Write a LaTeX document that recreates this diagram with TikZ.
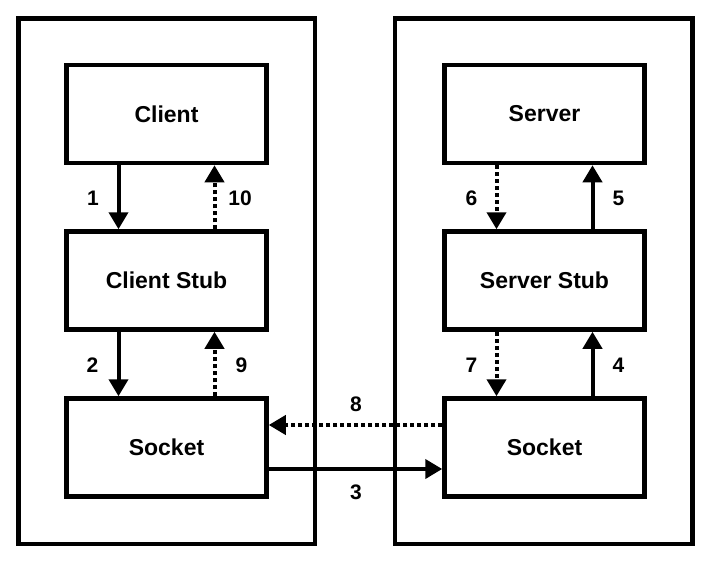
\documentclass[tikz,border=0pt]{standalone}
\usepackage{fontspec}
\setmainfont{Liberation Sans}
\usetikzlibrary{arrows.meta}
\begin{document}
\begin{tikzpicture}[x=1pt,y=-1pt,
  frame/.style={draw,line width=4.5pt,inner sep=0pt},
  comp/.style={draw,line width=4.5pt,minimum width=200pt,minimum height=98pt,
    inner sep=0pt,font=\fontsize{23}{27}\selectfont\bfseries},
  link/.style={line width=4pt,-{Triangle[width=19pt,length=17pt]}},
  async/.style={link,dash pattern=on 4pt off 3pt},
  num/.style={font=\fontsize{21}{25}\selectfont\bfseries}]
\useasboundingbox (0,0) rectangle (720,562);

% host machines
\node[frame,minimum width=296.5pt,minimum height=525.5pt] (hostA) at (166.75,281.25) {};
\node[frame,minimum width=297.5pt,minimum height=525.5pt] (hostB) at (543.75,281.25) {};

% client side
\node[comp] (client) at (166.5,114) {Client};
\node[comp] (cstub)  at (166.5,280.5) {Client Stub};
\node[comp] (csock)  at (166.5,447.5) {Socket};

% server side
\node[comp] (server) at (544.5,114) {Server};
\node[comp] (sstub)  at (544.5,280.5) {Server Stub};
\node[comp] (ssock)  at (544.5,447.5) {Socket};

% client calls
\draw[link]  ([xshift=-48pt]client.south) -- ([xshift=-48pt]cstub.north);
\draw[async] ([xshift=48pt]cstub.north) -- ([xshift=48pt]client.south);
\draw[link]  ([xshift=-48pt]cstub.south) -- ([xshift=-48pt]csock.north);
\draw[async] ([xshift=48pt]csock.north) -- ([xshift=48pt]cstub.south);

% server calls
\draw[async] ([xshift=-48pt]server.south) -- ([xshift=-48pt]sstub.north);
\draw[link]  ([xshift=48pt]sstub.north) -- ([xshift=48pt]server.south);
\draw[async] ([xshift=-48pt]sstub.south) -- ([xshift=-48pt]ssock.north);
\draw[link]  ([xshift=48pt]ssock.north) -- ([xshift=48pt]sstub.south);

% network
\draw[async] ([yshift=22.5pt]ssock.west) -- ([yshift=22.5pt]csock.east);
\draw[link]  ([yshift=-21.5pt]csock.east) -- ([yshift=-21.5pt]ssock.west);

% step numbers
\node[num] (n1)  at (93,198)  {1};
\node[num] (n10) at (240,198) {10};
\node[num] (n2)  at (92.5,365) {2};
\node[num] (n9)  at (241.5,365) {9};
\node[num] (n6)  at (471.5,198) {6};
\node[num] (n5)  at (618.5,198) {5};
\node[num] (n7)  at (471.5,365) {7};
\node[num] (n4)  at (618.5,365) {4};
\node[num] (n8)  at (356,404) {8};
\node[num] (n3)  at (356,492) {3};
\end{tikzpicture}
\end{document}
